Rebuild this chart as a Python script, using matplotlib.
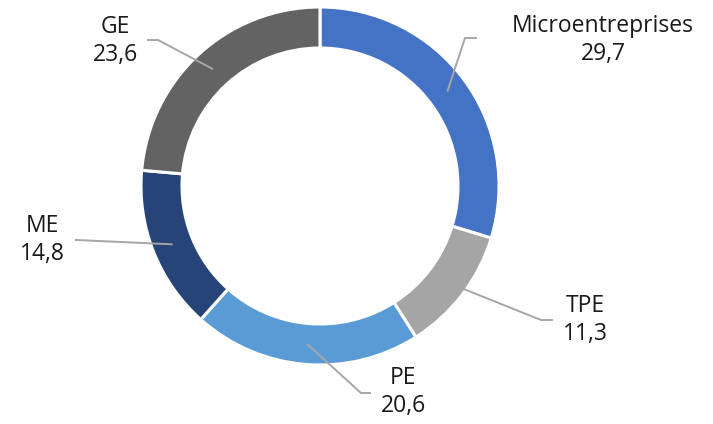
import numpy as np
import matplotlib
matplotlib.use("Agg")
from matplotlib import pyplot as plt

labels = ["Microentreprises", "TPE", "PE", "ME", "GE"]
values = [29.7, 11.3, 20.6, 14.8, 23.6]
colors = ["#4472C4", "#A5A5A5", "#5B9BD5", "#264478", "#636363"]

# label placement (pixel coords, y up), elbow point and line end
text_pos = [(603, 384), (585, 104), (403, 32), (42, 184), (115, 383)]
elbows = [(465, 386), (541, 104), (361, 31), (77, 184), (158, 384)]
ends = [(477, 386), (553, 104), (371, 31), (75, 184), (147, 384)]

fig = plt.figure(figsize=(7.13, 4.24), dpi=100)
ax = fig.add_axes([0, 0, 1, 1])
cx, cy, r, w = 320, 238, 179, 41

wedges, _ = ax.pie(values, colors=colors, startangle=90, counterclock=False,
                   radius=r, center=(cx, cy),
                   wedgeprops=dict(width=w, edgecolor="white", linewidth=2.2))

for wd, lab, val, tp, el, en in zip(wedges, labels, values, text_pos, elbows, ends):
    ang = np.deg2rad((wd.theta1 + wd.theta2) / 2)
    rm = r - w / 2
    ax_pt = (cx + rm * np.cos(ang), cy + rm * np.sin(ang))
    ax.plot([ax_pt[0], el[0], en[0]], [ax_pt[1], el[1], en[1]],
            color="#A6A6A6", lw=1.4, solid_capstyle="butt", zorder=3)
    ax.text(tp[0], tp[1], "{}\n{}".format(lab, str(val).replace(".", ",")),
            ha="center", va="center", fontsize=16.5, family="Open Sans",
            color="#1a1a1a", linespacing=1.25)

ax.set_xlim(0, 713)
ax.set_ylim(0, 424)
ax.set_aspect("equal")
ax.axis("off")
fig.savefig("out.png", dpi=100)
